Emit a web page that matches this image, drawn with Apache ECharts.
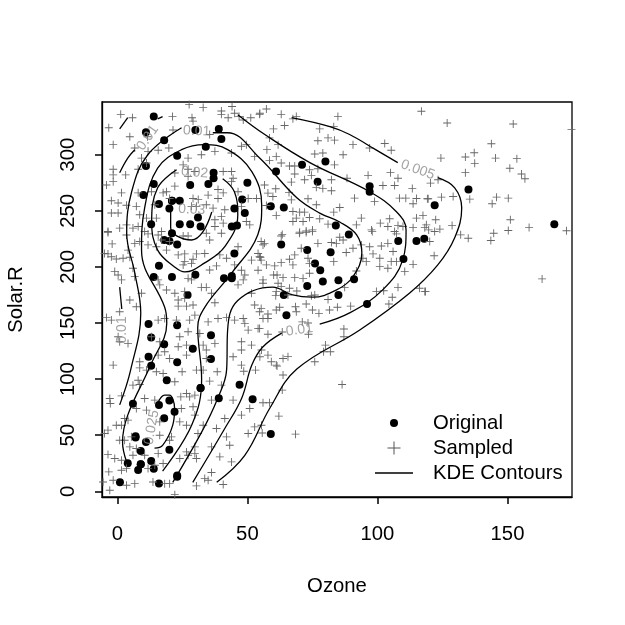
<!DOCTYPE html>
<html>
<head>
<meta charset="utf-8">
<style>html,body{margin:0;padding:0;background:#fff}#c{width:625px;height:625px}</style>
<script src="https://cdn.jsdelivr.net/npm/echarts@6/dist/echarts.min.js"></script>
</head>
<body>
<div id="c"></div>
<script>
var xTicks = [0, 50, 100, 150];
var yTicks = [0, 50, 100, 150, 200, 250, 300];

// airquality-style observations: [Ozone, Solar.R]
var original = [[41,190],[36,118],[12,149],[18,313],[23,299],[19,99],[8,19],[16,256],[11,290],[14,274],[18,65],[14,334],[34,307],[6,78],[30,322],[11,44],[1,8],[11,320],[4,25],[32,92],[23,13],[45,252],[115,223],[37,279],[29,127],[71,291],[39,323],[23,148],[21,191],[37,284],[20,37],[12,120],[13,137],[135,269],[49,248],[32,236],[64,175],[40,314],[77,276],[97,267],[97,272],[85,175],[10,264],[27,175],[7,48],[48,260],[35,274],[61,285],[79,187],[63,220],[16,7],[80,294],[108,223],[20,81],[52,82],[82,213],[50,275],[64,253],[59,254],[39,83],[9,24],[16,77],[122,255],[89,229],[110,207],[44,192],[28,273],[65,157],[22,71],[59,51],[23,115],[31,244],[44,190],[21,259],[9,36],[45,212],[168,238],[73,215],[76,203],[118,225],[84,237],[85,188],[96,167],[78,197],[73,183],[91,189],[47,95],[32,92],[20,252],[23,220],[21,230],[24,259],[44,236],[21,259],[28,238],[9,24],[13,112],[46,237],[18,224],[13,27],[24,238],[16,201],[13,238],[23,14],[36,139],[7,49],[14,20],[30,193],[14,191],[18,131],[20,223]];

var sampledUpperLeft = [[27.6,344.7],[33,342],[44.1,343],[40,339],[1.3,336],[5.8,333],[21.2,334],[28.7,333],[29.1,330],[40,336],[42.6,333],[45.1,337],[46.8,334],[48.4,331],[51.3,333],[54.8,337],[-3.3,324],[4.8,316],[11.6,316],[21.4,322],[35.5,318],[-1.6,309],[6.7,306],[9.3,297],[11.8,303],[15.7,304],[19.8,306],[32.3,300],[37.5,303],[43.9,301.5],[47.7,307.5],[49.6,309],[52.8,298.5],[-1.6,287],[-1.6,282],[3.2,282],[-4.2,273],[-1.6,276],[8,287],[11.2,292.6],[27.2,297],[25.3,291],[27.2,287],[27.2,280.7],[29.8,285],[22.1,283.7],[40.7,285],[43.9,285],[44.5,279],[43.9,276],[1.6,266],[-2.3,259],[0.3,257],[3.5,255],[-2.3,248],[0.3,248],[8,266],[13.1,267],[18.9,267],[17.6,266],[20.1,261],[22.1,272],[29.1,261],[31.1,260],[34.9,264],[38.7,269],[40.7,266],[46.4,267],[47.7,254],[50.3,261],[53.5,261],[7.3,254],[8.6,246.5],[14.4,255.4],[28.5,254],[30.4,254],[34.2,255.4],[36.8,252.4],[41.3,251],[38.7,261],[-3.6,231.6],[0.9,234.6],[3.5,237.5],[6,234.6],[8,236],[11.2,243.5],[15,243.5],[10.5,231.6],[17,231.6],[40,245],[37.5,242],[40.7,239],[49.6,240.5],[50.9,237.5],[37.5,236]];

var sampledUpperMiddle = [[57.3,340.8],[54.7,336],[63,336],[68.8,334],[67.5,332],[84.8,334],[116.9,338.7],[64.3,326],[60,323],[77.8,323],[83.2,325],[58.5,315],[61.8,309],[77.1,312.5],[81,315],[83.5,313],[90.6,309],[102.8,310],[105.3,304],[97,306],[57.5,304.5],[75.9,300.6],[79,301.5],[86.8,300],[61.1,298.5],[58.5,295],[63,292.6],[66.2,290],[68.2,290],[83.5,291],[73.9,286.6],[77.1,287.5],[68.2,282.8],[74.6,281.6],[72,277.7],[88.3,279],[96.4,281.6],[105,284],[107.9,279],[66.9,275.6],[82.3,277.7],[76.5,270.9],[79,270],[82.3,267.9],[102.1,272.6],[106.6,272.6],[113.4,270],[115,261],[56.6,273],[60.9,269.7],[57.9,265.8],[66,266.4],[59.8,262.8],[66.9,259.8],[73.3,260.7],[91.2,261.3],[98.9,258.4],[110.9,261.3],[108.5,261.3],[119.2,260.7],[113.7,256.3],[76.5,255.4],[85.5,253],[57.3,254.8],[67.5,249.4],[70.1,248.8],[72,248.8],[83.2,248.8],[61.1,245.9],[68.8,243.5],[73.9,244],[77.8,242.9],[67.5,240.5],[71.4,240.5],[81,238.1],[91.9,237.5],[93.8,243.5],[101.1,239],[104.7,242.9],[107.9,237],[115,243.5],[117.5,245.9],[113.7,235],[118.2,235],[97.7,233],[109.8,236],[70.1,231],[72.6,232],[75,233],[63.4,229],[106.6,231.6],[104,236]];

var sampledUpperRight = [[126.8,328.3],[152.2,327.4],[143.8,309.8],[174.6,322.4],[124.4,297],[133.8,298],[137.2,301.8],[137.4,292.3],[145.4,297],[153.6,296.5],[150.9,288],[133.8,284],[155.4,282.8],[156.7,278.6],[123.3,277.7],[120.4,274.7],[145.8,262.2],[150.3,261.3],[144.1,256.3],[135.5,260.4],[129.1,262.8],[124.6,262.2],[119.5,260.7],[151.1,242],[122.4,242],[118.8,237.5],[128.7,237],[158.3,235.2],[150.3,232.5],[144.7,230],[124,233.7],[122,231.6],[119.7,233],[172.7,232.2],[132,228.6],[134.9,225.6],[143.6,223.5],[120.1,222.6],[121.8,210],[163.3,189.3],[118.2,178]];

var sampledMiddleLeft = [[-3.6,230.6],[3.5,228.5],[11.8,229.4],[-2,220.5],[6.7,221],[8.6,222.6],[11.8,219.6],[15,218],[-3.6,211.6],[-4.9,212],[-2.3,209],[-0.4,207],[2.2,207.7],[4.8,208.6],[6,198.8],[4.1,215],[-1,195.8],[0.3,192.8],[1.6,188.4],[6.7,191.3],[15.7,188.4],[16.3,184],[18.9,179.4],[9.3,176.5],[4.8,170.5],[7.3,164.5],[0.9,160],[-4.2,155],[-2.3,152.6],[0.3,137.8],[0.9,133.3],[4.1,131.8],[13.1,137.8],[15.7,152.6],[18.2,154],[22.1,176.5],[25.9,178],[23.4,170.5],[25.9,172],[29.1,166],[23.4,165],[26.6,165],[32.3,181.8],[34.2,181.8],[29.8,157],[27.8,152.6],[22.7,152.6],[34.9,151],[38.7,154],[42,155],[37.5,168],[36.2,176.5],[46.4,184],[45.1,201.8],[47.7,197],[49,192.8],[48.4,188.4],[54.1,197],[51.6,206],[54.1,212],[55,208.6],[56,219.6],[23.4,210.7],[25.9,211.6],[29.1,206.8],[33.6,212],[30.4,211.6],[39.4,210.7],[25.9,204.7],[28.5,203.2],[25.3,201.8],[35.5,197.3],[42,207.7],[46.4,218],[40,230],[34.2,230],[25.3,227.6],[27.2,227.6],[35.5,224],[18.9,215],[20.1,222.6],[17,224],[15.7,228.5],[38.1,200.9],[28.5,188.4],[27.2,189.8],[51.6,176.5],[56,185.4],[52.8,166],[49,149.7],[50.3,143.7],[54.1,145],[45.1,152.6],[48.4,154],[37.5,131.8],[33,130.3],[34.2,125.9],[23.4,128.8],[26.6,130.3],[24,137.8],[27.2,142.2],[31.7,140.7],[16.3,133.3],[18.2,124.4],[15.7,121.4],[20.1,118.4],[26.6,121.4],[34.2,118.4],[-1.6,112.5],[8.6,115.4],[44.5,119.9],[47.7,125.9],[55.4,125.9],[54.8,119.9],[51.6,130.3],[47.7,133.3],[47.7,112.5]];

var sampledMiddleRight = [[63,227.6],[70,230],[72.6,230.6],[75,231.5],[56.6,221],[55.3,222.6],[77.1,221],[82.3,221.7],[84.2,221],[86.8,224],[85.5,226.5],[93.8,219.6],[97,218],[101.5,218.7],[104,221],[107.3,229.4],[98,231.5],[90.6,216.6],[70.7,216.6],[88,212.8],[106,213.7],[98.3,211.6],[100.9,207.7],[94.4,207.7],[95.7,204.7],[105.3,204.7],[107.3,204.7],[113.7,202.3],[68.2,210.7],[66.2,206.8],[67.5,201.8],[63,203.8],[60.5,200.9],[57.3,201.8],[54.7,209],[55.3,206],[73.9,203.2],[83.2,204.7],[73.3,207.7],[100.9,200.3],[104,198.8],[73.9,194.3],[110.5,195.8],[91.9,196.4],[60.1,192.8],[61.4,192.8],[63.7,190.4],[68.2,190.4],[71.4,189.8],[56,188.4],[61.8,185.4],[63,182.4],[66.2,181],[69,178.5],[61.1,178],[60.9,174.4],[65.6,175],[74.6,174.4],[75.9,175],[81,171],[87.4,181.8],[99.6,178],[102.4,178.8],[107.9,181.8],[105.7,172.9],[104.4,166.9],[116.2,181],[118.5,178],[72.6,167],[75,161.6],[77.5,158.6],[81.6,161.6],[84.6,164],[89.7,165],[68.5,164.5],[68.8,160],[61.1,161.6],[62.4,164],[57.9,158],[55.3,163],[54.7,160],[56,154],[57.9,154],[71.1,151],[73.3,150],[54.7,145],[57.9,140],[63.4,142],[73.5,140],[87.1,144.6],[87.1,137.8],[80,130.3],[79.3,124.4],[81.9,124.4],[75.9,115.4],[57.9,121.4],[59.2,115.4],[61.1,112.5],[63.7,118.4],[65.6,120]];

var sampledLower = [[8.6,110],[11.2,108],[15,106.5],[17.6,105],[24.9,106.5],[30.4,108],[33,108],[38.4,106.5],[48.6,107],[53.1,108],[8,99],[6,94.6],[8.6,95.2],[22.1,97.6],[35.5,98.2],[40,94.6],[1.6,85],[-2.9,82.7],[-2.7,78.3],[10.5,82.7],[14.4,81.3],[24.4,84.2],[26.6,87.2],[27.8,84.2],[29.8,85.7],[29.1,75.3],[36.2,81.3],[44.5,81.3],[47.7,67.9],[50.9,73.8],[7.3,73.8],[11.2,72.3],[2.8,64.9],[-0.4,58.9],[1.6,58.9],[4.1,63.4],[24.6,73.8],[29.8,67.9],[24,61.9],[26.6,58.9],[16.3,61.9],[33,58.9],[41.3,64.9],[38.1,55.9],[31,51.5],[42,48.5],[43.2,41],[52.8,57.4],[50.3,51.5],[55.4,58.9],[-3.6,54.5],[-4.9,51.5],[0.9,45.5],[2.8,45.5],[5.4,48.5],[16.3,50],[20.1,45.5],[20.8,48.5],[29.8,39.6],[26.6,35.1],[27.2,32.1],[29.8,33.6],[24,29.2],[36.2,39.6],[30.4,29.2],[39.4,30.7],[43.9,26.2],[4.8,39.6],[7.3,38.1],[-3.6,32.7],[-1,29.2],[1.6,27.7],[6,32.1],[10.5,32.1],[15.7,33.6],[17.6,24.7],[14.4,23.2],[11.8,20.2],[3.5,20.2],[1.6,18.8],[-3.3,17.3],[-5.5,8.3],[-1.6,9.8],[3.5,5.4],[6.7,6.8],[-2.9,0.9],[13.7,8.3],[18.2,6.8],[20.1,6.8],[22.1,-3],[30.4,4.8],[33.6,11.3],[36.2,16.7],[34.9,9.8],[40.7,6],[61.4,111.6],[63.7,103.6],[86.4,95.2],[63.4,90.2],[56,78.9],[58.5,78.9],[62.1,67],[68.5,50.9],[55.7,52]];

var contourOuterTop = [[67,333],[81.7,325],[89.3,318],[99.3,304.5],[107.8,293]];
var contourOuterRight = [[123.2,279.5],[129.7,270.5],[132.4,252.7],[129.7,226],[123.2,201.8],[112.4,176.8],[93.2,143.8],[69,108.9],[58.6,74],[49,32],[38.2,8]];
var contourTenthBottom = [[29,8],[41.3,56],[47.8,83],[51.7,112.5],[55.9,128.6],[63.2,141]];
var contourTenthRight = [[77.8,149],[89.3,159],[102,179.5],[109.7,206],[111,233],[107.4,249],[97,267],[74,293],[56.7,318],[46.3,335.7]];
var contourTenthLeft = [[0.9,284],[4,297],[6.7,304.5]];
var contourStubA = [[15.5,332],[17.4,334]];
var contourStubB = [[0.9,323],[4,333]];
var contourStubC = [[0.9,182],[1.7,162.5]];
var contourSecondA = [[0.9,77],[5.1,108],[9,159],[6.7,194.6],[3.6,230],[5.5,267],[11.7,300],[24.7,324]];
var contourSecondB = [[36.7,319.6],[42.4,319.6],[54.7,297],[69,261.6],[77.8,248],[85.5,240],[92,228.6],[94,212.5],[90.5,191],[84.3,179.5],[75,173],[67.4,175],[59.7,182],[46.3,170],[42.4,143.8],[42,108],[38.6,83],[32.4,52.7],[21.3,8]];
var contourThird = [[3.6,26],[2,43.8],[4,67.9],[12.8,112.5],[19,150],[18.2,164],[9.3,215],[10.5,252.7],[15.5,288],[24.7,304.5],[33.6,309],[42.4,304.5],[51.7,285],[55.5,255],[54,228.6],[44,194.6],[33.6,164],[30.9,146],[32.4,100],[28.6,59],[17.4,18]];
var contourFourth = [[22.8,286.6],[15.5,270.5],[13.2,240],[15.5,215],[22,200],[25.9,195.5],[33.6,203.6],[41.3,218],[46.3,246],[45,267],[40.5,278.6]];
var contourInner = [[20.5,249],[20.5,234.8],[22.8,227.7],[28.6,224],[32.8,231],[36.3,249]];
var contourSmallLoop = [[14.3,38.4],[17.4,41],[21.3,59],[22,74],[20,85.7],[18.2,85.7],[15.5,78.6]];

var contourSegments = [contourOuterTop, contourOuterRight, contourTenthBottom, contourTenthRight, contourTenthLeft, contourStubA, contourStubB, contourStubC, contourSecondA, contourSecondB, contourThird, contourFourth, contourInner, contourSmallLoop];

var contourLabelText = ['0.005','0.01','0.01','0.02','0.03','0.01','0.01','0.025'];
var contourLabelAt = [[115.5,286.6],[11.7,315],[30.5,321],[29.7,284],[28.6,251],[70,143.8],[1.7,143.8],[13.2,57]];
var contourLabelAngle = [-20,55,-3,-5,-3,8,90,80];

var plusPath = 'path://M4 0h1v4h4v1h-4v4h-1v-4h-4v-1h4z';
var sampled = [].concat(sampledUpperLeft, sampledUpperMiddle, sampledUpperRight, sampledMiddleLeft, sampledMiddleRight, sampledLower);

var series = [
  {name:'Original', type:'scatter', data:original, symbol:'circle', symbolSize:8, itemStyle:{color:'#000', opacity:1}, z:2, silent:true},
  {name:'Sampled', type:'scatter', data:sampled, symbol:plusPath, symbolSize:8, itemStyle:{color:'#666', opacity:1}, z:3, silent:true}
];
contourSegments.forEach(function(seg){
  series.push({name:'KDE Contours', type:'line', data:seg, smooth:0.4, showSymbol:false, symbol:'none', lineStyle:{color:'#000', width:1.3}, itemStyle:{color:'#000'}, z:4, silent:true});
});
series.push({name:'Contour labels', type:'scatter', symbolSize:0, z:5, silent:true,
  data: contourLabelText.map(function(t,i){
    return {value:contourLabelAt[i], label:{show:true, position:'inside', formatter:t, rotate:contourLabelAngle[i], color:'#8c8c8c', fontSize:14, fontFamily:'Liberation Sans'}};
  })
});

var axisFont = {fontFamily:'Liberation Sans', fontSize:20.3, color:'#000'};
var chart = echarts.init(document.getElementById('c'), null, {renderer:'canvas'});
chart.setOption({
  animation:false,
  backgroundColor:'#fff',
  grid:{left:102, top:102, width:470, height:395, show:true, borderColor:'#000', borderWidth:1.3, backgroundColor:'transparent', containLabel:false, outerBoundsMode:'none'},
  xAxis:{type:'value', min:-5.9, max:174.8, name:'Ozone', nameLocation:'middle', nameGap:79, nameTextStyle:axisFont, splitLine:{show:false},
    axisLine:{show:true, onZero:false, lineStyle:{color:'#000', width:1.3}}, axisTick:{show:true, length:7, inside:false, customValues:xTicks, lineStyle:{color:'#000', width:1.5}},
    axisLabel:Object.assign({show:true, margin:27, customValues:xTicks, hideOverlap:false}, axisFont)},
  yAxis:{type:'value', min:-5.1, max:347, name:'Solar.R', nameLocation:'middle', nameGap:76, nameTextStyle:axisFont, splitLine:{show:false},
    axisLine:{show:true, onZero:false, lineStyle:{color:'#000', width:1.3}}, axisTick:{show:true, length:7, inside:false, customValues:yTicks, lineStyle:{color:'#000', width:1.5}},
    axisLabel:Object.assign({show:true, margin:24, rotate:90, customValues:yTicks, hideOverlap:false}, axisFont)},
  legend:{show:true, orient:'vertical', left:375, top:413, itemWidth:53, itemHeight:20, itemGap:5, selectedMode:false, padding:0,
    textStyle:axisFont,
    data:[
      {name:'Original', icon:'path://M0 0M53 20M15 10a4 4 0 1 0 8 0a4 4 0 1 0 -8 0z', itemStyle:{color:'#000', opacity:1}},
      {name:'Sampled', icon:'path://M0 0M53 20M18.5 3.5h1v6h6v1h-6v6h-1v-6h-6v-1h6z', itemStyle:{color:'#555', opacity:1}},
      {name:'KDE Contours', icon:'path://M0 0M53 20M0 9.2H38V10.8H0z', itemStyle:{color:'#000', opacity:1}}
    ]},
  series:series
});
</script>
</body>
</html>
